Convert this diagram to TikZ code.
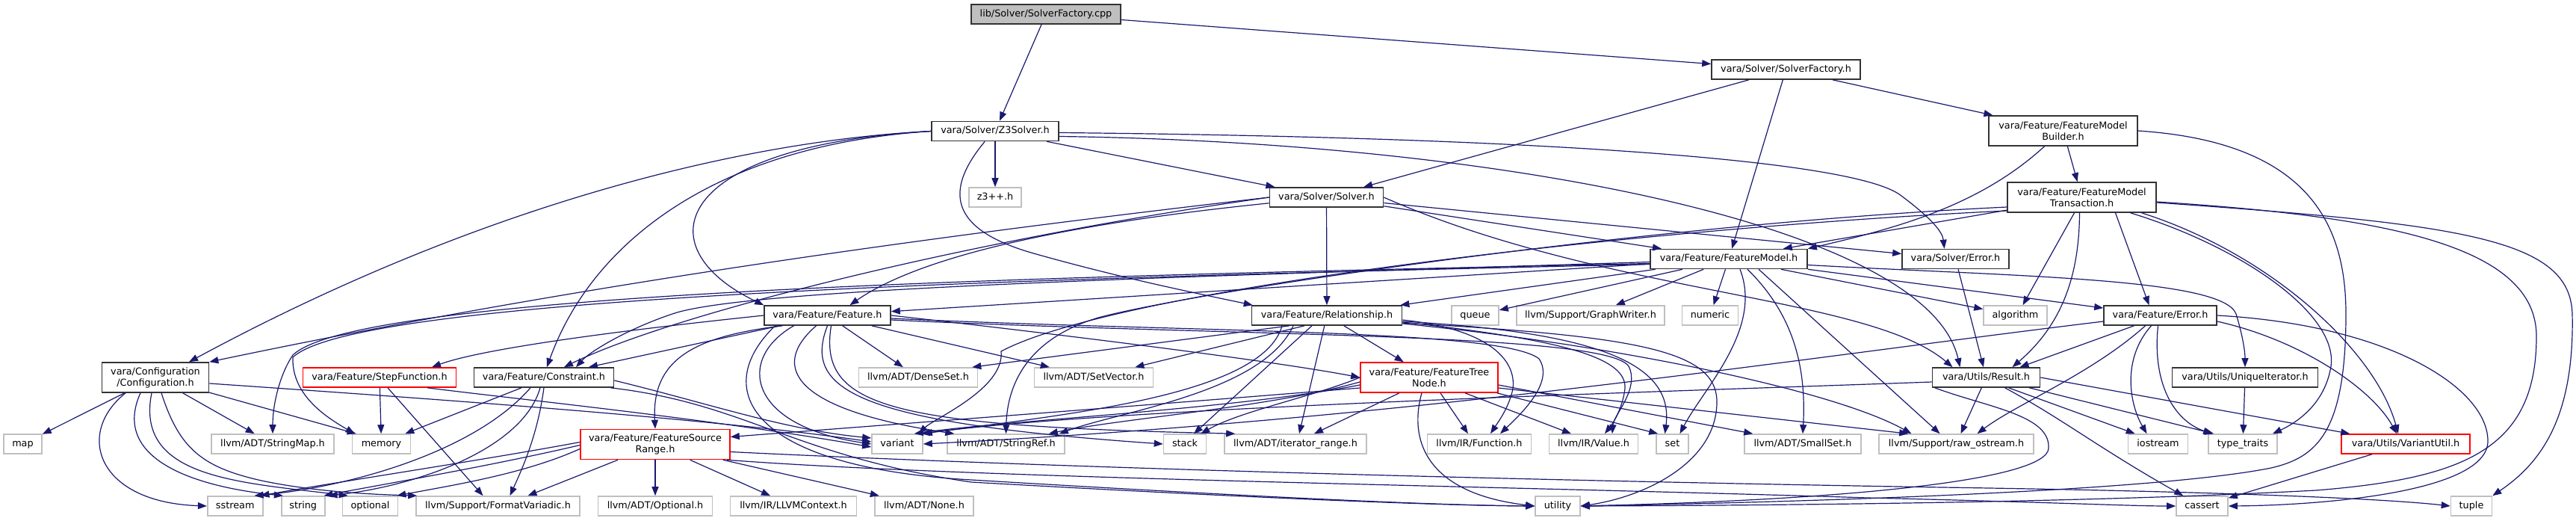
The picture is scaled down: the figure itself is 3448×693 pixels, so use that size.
\documentclass[tikz,border=0pt]{standalone}
\usepackage{fontspec}
\setmainfont{DejaVu Sans}
\usetikzlibrary{arrows.meta,calc}
\definecolor{edgeblue}{HTML}{191970}
\definecolor{gfill}{HTML}{BFBFBF}
\definecolor{bord}{HTML}{333333}
\tikzset{
  nb/.style={draw=bord, line width=1.6pt, fill=white, inner sep=0pt, align=center, font=\fontsize{12.8}{15}\selectfont},
  one/.style={text height=9.3pt, text depth=2.7pt, minimum height=26pt},
  two/.style={minimum height=40pt},
  gb/.style={nb, draw=gfill},
  rb/.style={nb, draw=red},
  rootb/.style={nb, fill=gfill, draw=bord},
  e/.style={draw=edgeblue, line width=1.2pt, -{Triangle[length=12pt,width=9pt]}},
}
\begin{document}
\begin{tikzpicture}[x=1pt,y=-1pt]
\useasboundingbox[fill=white] (0,0) rectangle (3448,693);
% row 0-4
\node[rootb,one,minimum width=200pt] (cpp) at (1400,19) {lib/Solver/SolverFactory.cpp};
\node[nb,one,minimum width=199pt] (sfh) at (2390.5,93) {vara/Solver/SolverFactory.h};
\node[nb,one,minimum width=170pt] (z3) at (1332,175.5) {vara/Solver/Z3Solver.h};
\node[nb,two,minimum width=199pt] (bld) at (2761.5,175) {vara/Feature/FeatureModel\\Builder.h};
\node[gb,one,minimum width=70pt] (z3pp) at (1332,264) {z3++.h};
\node[nb,one,minimum width=152pt] (solver) at (1775.5,264) {vara/Solver/Solver.h};
\node[nb,two,minimum width=199pt] (trans) at (2786.5,264) {vara/Feature/FeatureModel\\Transaction.h};
\node[nb,one,minimum width=210pt] (fm) at (2314,346.5) {vara/Feature/FeatureModel.h};
\node[nb,one,minimum width=143pt] (serr) at (2617.5,346.5) {vara/Solver/Error.h};
% row 5
\node[nb,one,minimum width=169pt] (feat) at (1107.5,422) {vara/Feature/Feature.h};
\node[nb,one,minimum width=201pt] (rel) at (1776,422) {vara/Feature/Relationship.h};
\node[gb,one,minimum width=63pt] (nqueue) at (1974.5,422) {queue};
\node[gb,one,minimum width=198pt] (gw) at (2129,422) {llvm/Support/GraphWriter.h};
\node[gb,one,minimum width=75pt] (numeric) at (2289,422) {numeric};
\node[gb,one,minimum width=85pt] (alg) at (2697.5,422) {algorithm};
\node[nb,one,minimum width=151pt] (ferr) at (2891.5,422) {vara/Feature/Error.h};
% row 6
\node[nb,two,minimum width=143pt] (cfg) at (208,505) {vara/Configuration\\/Configuration.h};
\node[rb,one,minimum width=205pt] (stepfn) at (508,505) {vara/Feature/StepFunction.h};
\node[nb,one,minimum width=187pt] (cons) at (728,505) {vara/Feature/Constraint.h};
\node[gb,one,minimum width=159pt] (dense) at (1229,505) {llvm/ADT/DenseSet.h};
\node[gb,one,minimum width=159pt] (setvec) at (1464,505) {llvm/ADT/SetVector.h};
\node[rb,two,minimum width=184pt] (ftn) at (1913,505) {vara/Feature/FeatureTree\\Node.h};
\node[nb,one,minimum width=144pt] (res) at (2658.5,505) {vara/Utils/Result.h};
\node[nb,one,minimum width=195pt] (uniq) at (3005,505) {vara/Utils/UniqueIterator.h};
% row 7
\node[gb,one,minimum width=51pt] (nmap) at (30.5,594) {map};
\node[gb,one,minimum width=164pt] (smap) at (365,594) {llvm/ADT/StringMap.h};
\node[gb,one,minimum width=78pt] (memory) at (510.5,594) {memory};
\node[rb,two,minimum width=200pt] (fsr) at (877,594.5) {vara/Feature/FeatureSource\\Range.h};
\node[gb,one,minimum width=68pt] (variant) at (1201,594) {variant};
\node[gb,one,minimum width=157pt] (sref) at (1346.5,594) {llvm/ADT/StringRef.h};
\node[gb,one,minimum width=57pt] (nstack) at (1586,594) {stack};
\node[gb,one,minimum width=190pt] (irange) at (1734,594) {llvm/ADT/iterator\_range.h};
\node[gb,one,minimum width=139pt] (func) at (1980,594) {llvm/IR/Function.h};
\node[gb,one,minimum width=119pt] (value) at (2133,594) {llvm/IR/Value.h};
\node[gb,one,minimum width=43pt] (nset) at (2238.5,594) {set};
\node[gb,one,minimum width=156pt] (sset) at (2413,594) {llvm/ADT/SmallSet.h};
\node[gb,one,minimum width=207pt] (rawos) at (2618.5,594) {llvm/Support/raw\_ostream.h};
\node[gb,one,minimum width=80pt] (iostream) at (2888.5,594) {iostream};
\node[gb,one,minimum width=92pt] (tt) at (3002,594) {type\_traits};
\node[rb,one,minimum width=172pt] (vu) at (3220,594) {vara/Utils/VariantUtil.h};
% row 8
\node[gb,one,minimum width=74pt] (sstream) at (314.7,677) {sstream};
\node[gb,one,minimum width=58pt] (nstring) at (405.7,677) {string};
\node[gb,one,minimum width=74pt] (optional) at (495.5,677) {optional};
\node[gb,one,minimum width=219pt] (fv) at (666.5,677) {llvm/Support/FormatVariadic.h};
\node[gb,one,minimum width=153pt] (opth) at (877,677) {llvm/ADT/Optional.h};
\node[gb,one,minimum width=169pt] (ctx) at (1062,677) {llvm/IR/LLVMContext.h};
\node[gb,one,minimum width=132pt] (none) at (1237,677) {llvm/ADT/None.h};
\node[gb,one,minimum width=60pt] (util) at (2085,677) {utility};
\node[gb,one,minimum width=69pt] (cassert) at (2947.5,677) {cassert};
\node[gb,one,minimum width=55pt] (ntuple) at (3308,677) {tuple};

% ---- edges: top
\draw[e] (cpp) -- (z3);
\draw[e] (cpp) -- (sfh);
\draw[e] (sfh) -- (solver);
\draw[e] (sfh) -- (fm);
\draw[e] (sfh) -- (bld);
\draw[e] (bld) -- (trans);
\draw[e] ($(bld.south)+(-25,0)$) .. controls (2650,275) and (2540,305) .. (fm.north east);
\draw[e] (bld.east) .. controls (3090,190) and (3140,300) .. (3140,420) .. controls (3140,580) and (3100,612) .. (3040,626) .. controls (2880,658) and (2400,672) .. (util.east);
% z3
\draw[e] (z3) -- (z3pp);
\draw[e] (z3) -- (solver);
\draw[e] (z3.west) .. controls (1000,188) and (650,270) .. ($(cfg.north)+(45,0)$);
\draw[e] (z3.west) .. controls (950,195) and (790,330) .. ($(cons.north)+(4,0)$);
\draw[e] (z3.west) .. controls (900,195) and (860,330) .. (feat.north west);
\draw[e] (z3.-135) .. controls (1255,265) and (1285,310) .. (1380,338) .. controls (1500,372) and (1600,392) .. ($(rel.north west)+(2,0)$);
\draw[e] ($(z3.east)+(0,7)$) .. controls (2000,190) and (2580,300) .. ($(res.north)+(-35,0)$);
\draw[e] ($(z3.east)+(0,2)$) .. controls (2000,183) and (2480,210) .. (2545,262) .. controls (2585,292) and (2600,310) .. ($(serr.north)+(-15,0)$);
% solver
\draw[e] (solver.west) .. controls (1300,310) and (800,375) .. (cfg.north east);
\draw[e] (solver.west) .. controls (1300,320) and (900,420) .. ($(cons.north)+(27,0)$);
\draw[e] (solver) .. controls (1500,292) and (1250,330) .. ($(feat.north)+(30,0)$);
\draw[e] (solver) -- (fm);
\draw[e] (solver) -- (rel);
\draw[e] (solver) -- (serr);
\draw[e] (solver.east) .. controls (2150,395) and (2500,395) .. ($(res.north)+(-45,0)$);
% transaction
\draw[e] (trans) -- ($(fm.north east)+(-33,0)$);
\draw[e] ($(trans.south)+(45,0)$) -- ($(ferr.north)+(-15,0)$);
\draw[e] ($(trans.south)+(-10,0)$) -- ($(alg.north)+(10,0)$);
\draw[e] ($(trans.south)+(-3,0)$) .. controls (2783,360) and (2765,430) .. ($(res.north)+(35,0)$);
\draw[e] ($(trans.south)+(65,0)$) .. controls (3000,330) and (3130,420) .. (3120,490) .. controls (3112,540) and (3075,565) .. ($(tt.north)+(40,0)$);
\draw[e] ($(trans.south)+(80,0)$) .. controls (3040,340) and (3180,470) .. ($(vu.north)+(-10,0)$);
\draw[e] ($(trans.east)+(0,7)$) .. controls (3300,300) and (3440,320) .. (3443,420) .. controls (3446,560) and (3400,620) .. (ntuple.north east);
\draw[e] ($(trans.east)+(0,6)$) .. controls (3200,290) and (3395,330) .. (3395,450) .. controls (3395,600) and (3300,640) .. (3100,656) .. controls (2800,672) and (2400,676) .. (util.east);
\draw[e] ($(trans.west)+(0,13)$) .. controls (2200,300) and (1600,390) .. (1470,425) .. controls (1370,455) and (1348,520) .. (sref.north);
\draw[e] ($(trans.west)+(0,18)$) .. controls (2200,305) and (1500,385) .. (1340,470) .. controls (1345,520) and (1250,560) .. ($(variant.north east)+(-6,0)$);
% feature model
\draw[e] (fm) -- (feat);
\draw[e] (fm) -- (rel);
\draw[e] (fm) -- (nqueue);
\draw[e] (fm) -- (gw);
\draw[e] (fm) -- (numeric);
\draw[e] (fm) -- (alg);
\draw[e] (fm) -- (ferr);
\draw[e] ($(fm.south)+(25,0)$) .. controls (2400,420) and (2418,490) .. (sset.north);
\draw[e] ($(fm.south)+(40,0)$) -- ($(rawos.north)+(-22,0)$);
\draw[e] ($(fm.south)+(15,0)$) .. controls (2360,440) and (2280,520) .. ($(nset.north)+(10,0)$);
\draw[e] ($(fm.east)+(0,8)$) .. controls (2700,370) and (2975,372) .. (2993,420) .. controls (3002,450) and (3005,470) .. (uniq.north);
\draw[e] ($(fm.west)+(0,4)$) .. controls (1600,370) and (1000,385) .. (900,420) .. controls (840,440) and (790,470) .. ($(cons.north)+(43,0)$);
\draw[e] ($(fm.west)+(0,6)$) .. controls (1400,370) and (480,390) .. (392,475) .. controls (375,500) and (365,540) .. (smap.north);
\draw[e] ($(fm.west)+(0,7)$) .. controls (1400,372) and (480,395) .. (392,478) .. controls (390,530) and (440,560) .. ($(memory.north west)+(4,0)$);
% errors
\draw[e] (serr) -- (res);
\draw[e] ($(ferr.south)+(-35,0)$) -- ($(res.north)+(45,0)$);
\draw[e] ($(ferr.south)+(-20,0)$) .. controls (2800,500) and (2700,540) .. ($(rawos.north)+(28,0)$);
\draw[e] ($(ferr.south)+(-12,0)$) .. controls (2840,480) and (2850,540) .. ($(iostream.north)+(-15,0)$);
\draw[e] ($(ferr.south)+(-3,0)$) .. controls (2880,520) and (2915,565) .. ($(tt.north west)+(6,0)$);
\draw[e] ($(ferr.east)+(0,8)$) .. controls (3080,455) and (3175,520) .. ($(vu.north)+(-12,0)$);
\draw[e] (ferr.east) .. controls (3200,435) and (3330,520) .. (3330,590) .. controls (3330,660) and (3100,676) .. (cassert.east);
\draw[e] ($(ferr.west)+(0,8)$) .. controls (2400,480) and (1900,560) .. (variant.east);
% result
\draw[e] (res) -- ($(rawos.north)+(6,0)$);
\draw[e] ($(res.south)+(30,0)$) -- ($(iostream.north west)+(10,0)$);
\draw[e] ($(res.south east)+(-15,0)$) -- ($(tt.north west)+(8,0)$);
\draw[e] (res.east) -- ($(vu.north west)+(12,0)$);
\draw[e] ($(res.south)+(25,0)$) .. controls (2760,560) and (2810,600) .. ($(cassert.north west)+(10,0)$);
\draw[e] ($(res.west)+(0,6)$) .. controls (2200,525) and (1500,545) .. ($(variant.north east)+(-3,0)$);
\draw[e] ($(res.south west)+(4,0)$) .. controls (2660,545) and (2745,555) .. (2742,600) .. controls (2739,640) and (2500,668) .. (util.east);
\draw[e] (uniq) -- (tt);
\draw[e] (vu) -- (cassert);
% feature
\draw[e] (feat) -- ($(cons.north)+(60,0)$);
\draw[e] (feat.west) .. controls (850,440) and (650,465) .. ($(stepfn.north)+(70,0)$);
\draw[e] ($(feat.south)+(-60,0)$) .. controls (930,450) and (872,480) .. (fsr.north);
\draw[e] (feat) -- (dense);
\draw[e] (feat) -- (setvec);
\draw[e] ($(feat.south)+(-15,0)$) .. controls (1030,490) and (1060,548) .. ($(sref.north west)+(10,0)$);
\draw[e] (feat.south) .. controls (1075,520) and (1140,565) .. (nstack.west);
\draw[e] ($(feat.south)+(5,0)$) .. controls (1095,545) and (1190,570) .. ($(irange.north west)+(15,0)$);
\draw[e] ($(feat.south)+(-45,0)$) .. controls (985,480) and (1000,570) .. (variant.west);
\draw[e] ($(feat.south)+(-70,0)$) .. controls (950,520) and (1000,625) .. (1300,642) .. controls (1600,660) and (1900,676) .. (util.west);
\draw[e] (feat.east) .. controls (1400,445) and (1700,482) .. (ftn.west);
\draw[e] ($(feat.east)+(0,4)$) .. controls (1600,445) and (2010,440) .. (2060,480) .. controls (2080,510) and (2040,550) .. ($(func.north)+(28,0)$);
\draw[e] ($(feat.east)+(0,6)$) .. controls (1650,450) and (2150,445) .. (2180,490) .. controls (2195,520) and (2160,555) .. ($(value.north)+(25,0)$);
% relationship
\draw[e] (rel) -- (ftn);
\draw[e] (rel) -- ($(irange.north)+(5,0)$);
\draw[e] ($(rel.south)+(-50,0)$) -- ($(dense.north east)+(-8,0)$);
\draw[e] ($(rel.south)+(-30,0)$) -- ($(setvec.north east)+(-25,0)$);
\draw[e] ($(rel.south)+(-60,0)$) .. controls (1690,530) and (1420,555) .. (variant.north east);
\draw[e] ($(rel.south)+(-45,0)$) .. controls (1690,525) and (1500,550) .. ($(sref.north east)+(-8,0)$);
\draw[e] ($(rel.south)+(-20,0)$) -- ($(nstack.north)+(12,0)$);
\draw[e] ($(rel.east)+(0,6)$) .. controls (1990,440) and (2030,480) .. (2025,520) .. controls (2020,545) and (2005,565) .. ($(func.north)+(15,0)$);
\draw[e] ($(rel.east)+(0,9)$) .. controls (2100,455) and (2178,480) .. (2175,520) .. controls (2172,545) and (2160,565) .. ($(value.north)+(15,0)$);
\draw[e] ($(rel.east)+(0,8)$) .. controls (2150,445) and (2240,490) .. ($(nset.north)+(-10,0)$);
\draw[e] ($(rel.east)+(0,10)$) .. controls (2200,450) and (2300,470) .. (2298,540) .. controls (2296,620) and (2200,665) .. (util.east);
\draw[e] ($(rel.east)+(0,11)$) .. controls (2150,460) and (2450,520) .. ($(rawos.north)+(-60,0)$);
% feature tree node
\draw[e] ($(ftn.south)+(-40,0)$) -- ($(irange.north)+(25,0)$);
\draw[e] ($(ftn.south)+(15,0)$) -- ($(func.north)+(-15,0)$);
\draw[e] ($(ftn.south)+(48,0)$) -- ($(value.north)+(-30,0)$);
\draw[e] ($(ftn.south east)+(-2,0)$) -- ($(nset.north west)+(3,0)$);
\draw[e] ($(ftn.east)+(0,10)$) -- ($(sset.north west)+(12,0)$);
\draw[e] ($(ftn.east)+(0,14)$) -- ($(rawos.north west)+(40,0)$);
\draw[e] ($(ftn.south)+(-10,0)$) .. controls (1885,590) and (1910,660) .. (util.west);
\draw[e] (ftn.west) .. controls (1760,530) and (1660,550) .. ($(nstack.north east)+(-8,0)$);
\draw[e] ($(ftn.west)+(0,6)$) .. controls (1700,545) and (1500,560) .. ($(sref.north east)+(-22,0)$);
\draw[e] ($(ftn.west)+(0,10)$) .. controls (1650,548) and (1350,562) .. ($(variant.north east)+(-12,0)$);
\draw[e] ($(ftn.west)+(0,14)$) .. controls (1500,545) and (1100,575) .. ($(fsr.east)+(0,-10)$);
% configuration
\draw[e] (cfg) -- (nmap);
\draw[e] (cfg) -- (smap);
\draw[e] (cfg) -- ($(memory.north west)+(6,0)$);
\draw[e] ($(cfg.south)+(-40,0)$) .. controls (100,580) and (130,672) .. (sstream.west);
\draw[e] ($(cfg.south)+(-20,0)$) .. controls (150,610) and (250,650) .. ($(nstring.north west)+(3,0)$);
\draw[e] ($(cfg.south)+(-5,0)$) .. controls (180,640) and (320,645) .. ($(optional.north west)+(8,0)$);
\draw[e] ($(cfg.south)+(8,0)$) .. controls (240,600) and (270,625) .. (350,643) .. controls (430,660) and (520,662) .. ($(fv.north west)+(2,0)$);
\draw[e] ($(cfg.east)+(0,8)$) .. controls (600,535) and (950,560) .. ($(variant.west)+(0,-3)$);
% step function
\draw[e] (stepfn) -- (memory);
\draw[e] ($(stepfn.south)+(11,0)$) -- ($(fv.north)+(-20,0)$);
\draw[e] ($(stepfn.south)+(64,0)$) .. controls (700,535) and (950,560) .. ($(variant.west)+(0,4)$);
% constraint
\draw[e] ($(cons.south)+(-30,0)$) -- ($(memory.north east)+(-8,0)$);
\draw[e] ($(cons.south)+(-18,0)$) .. controls (640,600) and (480,650) .. ($(sstream.north east)+(-12,0)$);
\draw[e] ($(cons.south)+(-5,0)$) .. controls (700,600) and (560,650) .. ($(nstring.north east)+(4,0)$);
\draw[e] (cons.south) .. controls (720,580) and (700,625) .. ($(fv.north)+(16,0)$);
\draw[e] ($(cons.east)+(0,4)$) .. controls (950,540) and (1050,575) .. ($(variant.west)+(0,-8)$);
\draw[e] ($(cons.south east)+(-5,0)$) .. controls (1000,540) and (1060,610) .. (1300,645) .. controls (1600,662) and (1900,676) .. (util.west);
% feature source range
\draw[e] (fsr) -- (opth);
\draw[e] (fsr) -- (ctx);
\draw[e] (fsr) -- (none);
\draw[e] ($(fsr.west)+(0,-3)$) .. controls (650,615) and (450,645) .. ($(sstream.north east)+(-4,0)$);
\draw[e] ($(fsr.west)+(0,1)$) .. controls (650,625) and (500,650) .. ($(nstring.north east)+(-2,0)$);
\draw[e] ($(fsr.west)+(0,6)$) .. controls (700,635) and (600,650) .. ($(optional.north east)+(-2,0)$);
\draw[e] ($(fsr.south)+(-50,0)$) -- ($(fv.north)+(40,0)$);
\draw[e] ($(fsr.east)+(0,10)$) .. controls (1400,625) and (2000,642) .. (2600,652) .. controls (3000,658) and (3200,668) .. (ntuple.west);
\draw[e] ($(fsr.south east)+(-5,0)$) .. controls (1300,640) and (2000,650) .. (2500,666) .. controls (2750,672) and (2850,677) .. (cassert.west);
\end{tikzpicture}
\end{document}
